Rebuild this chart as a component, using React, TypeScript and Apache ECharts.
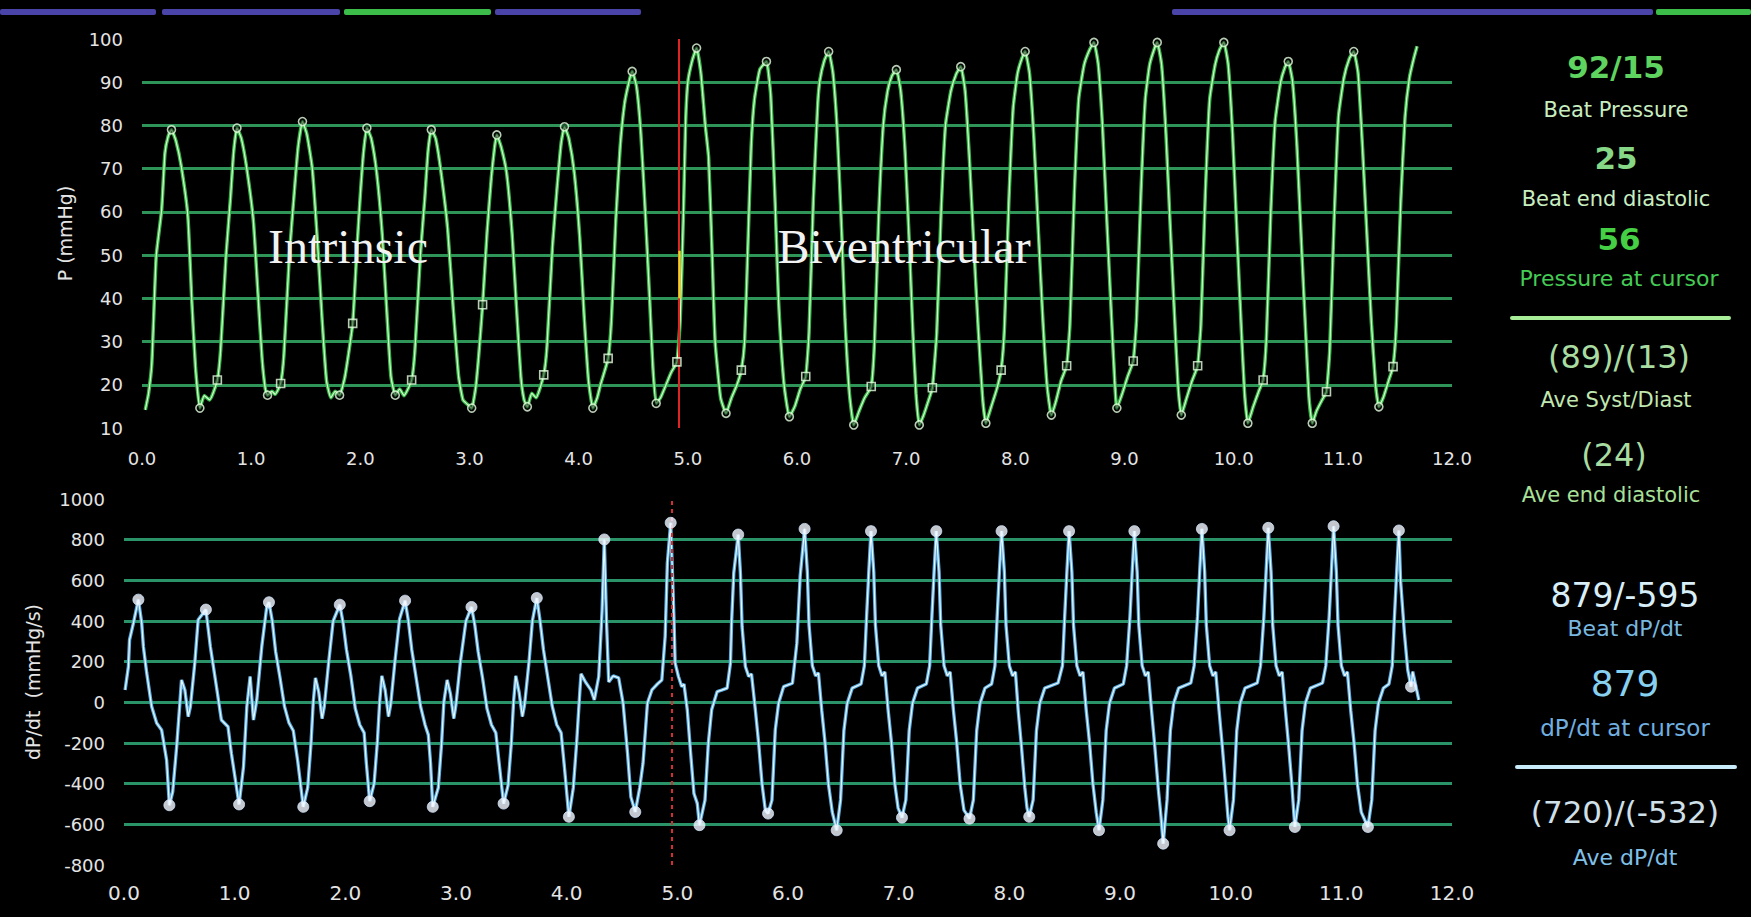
import React, { useEffect, useRef } from "react";
import * as echarts from "echarts";

// ---------- DATA ----------
// Left-ventricular pressure trace, [time s, mmHg]
const PRESSURE_TRACE: [number, number][] = [
  [0.03,14.2],[0.06,18],[0.09,25],[0.13,49.7],[0.18,60.5],[0.21,73.6],[0.24,77.5],[0.27,79],
  [0.31,76.5],[0.36,70.5],[0.42,59],[0.455,40],[0.49,24],[0.53,14.6],[0.57,17.5],[0.62,16.5],[0.69,21.1],
  [0.72,28],[0.77,50],[0.81,63],[0.84,74],[0.87,79.4],
  [0.91,77],[0.96,70],[1.02,58],[1.06,42],[1.10,26],[1.13,19],[1.15,17.6],[1.19,18.5],[1.22,17.8],[1.27,20.3],
  [1.30,27],[1.35,50],[1.39,63],[1.43,75],[1.47,80.9],
  [1.51,78],[1.56,70],[1.61,52],[1.65,35],[1.69,21],[1.73,17],[1.77,18.5],[1.81,17.6],[1.86,22],[1.93,34.2],
  [1.97,52],[2.00,64],[2.03,74],[2.06,79.4],
  [2.10,77],[2.15,69],[2.20,55],[2.24,38],[2.28,22],[2.32,17.6],[2.36,19],[2.40,17.5],[2.47,21.1],
  [2.50,28],[2.55,50],[2.59,63],[2.62,74],[2.65,79],
  [2.69,77],[2.74,69],[2.80,56],[2.85,38],[2.90,22],[2.94,16.5],[2.98,15.5],[3.02,14.6],[3.06,20],[3.12,38.5],
  [3.16,55],[3.20,68],[3.23,75],[3.25,77.8],
  [3.29,75],[3.34,69],[3.39,55],[3.43,38],[3.47,22],[3.50,16.5],[3.53,14.9],[3.57,18],[3.61,17],[3.68,22.3],
  [3.71,29],[3.76,52],[3.80,65],[3.84,76],[3.87,79.7],
  [3.91,77],[3.96,69],[4.01,54],[4.05,36],[4.09,21],[4.13,14.6],[4.17,17],[4.20,20],[4.27,26.1],
  [4.30,35],[4.34,58],[4.38,75],[4.42,85],[4.46,90],[4.49,92.5],
  [4.53,89],[4.57,78],[4.61,60],[4.65,40],[4.68,24],[4.71,15.7],[4.75,17],[4.80,20],[4.85,23],[4.90,25.3],
  [4.93,35],[4.96,60],[4.98,81],[5.00,90],[5.04,95],[5.08,97.9],
  [5.12,92],[5.16,80],[5.19,72.7],[5.22,52],[5.25,30],[5.30,17],[5.35,13.4],[5.40,17],[5.45,20],[5.49,23.4],
  [5.52,30],[5.55,52],[5.58,75],[5.61,86],[5.66,93],[5.72,94.8],
  [5.76,86.7],[5.80,62],[5.83,40],[5.88,20.4],[5.93,12.6],[5.98,15],[6.03,19],[6.08,21.9],
  [6.11,32],[6.15,63],[6.19,85],[6.21,90.5],[6.25,95],[6.29,97.1],
  [6.33,92],[6.37,78],[6.41,55],[6.44,35],[6.48,18],[6.52,10.7],[6.57,14],[6.62,17],[6.68,19.6],
  [6.71,30],[6.75,60],[6.79,80],[6.83,88],[6.87,91.5],[6.91,92.9],
  [6.95,88],[6.99,74],[7.03,52],[7.06,33],[7.09,18],[7.12,10.7],[7.16,13],[7.20,16],[7.24,19.3],
  [7.28,32],[7.32,60],[7.36,80],[7.41,88],[7.46,92],[7.50,93.6],
  [7.54,88],[7.58,72],[7.62,52],[7.66,33],[7.70,17],[7.73,11.1],[7.78,15],[7.83,19],[7.87,23.4],
  [7.90,33],[7.94,62],[7.98,84],[8.02,92],[8.06,95.5],[8.09,97.1],
  [8.13,92],[8.17,77],[8.21,56],[8.25,36],[8.29,20],[8.33,13],[8.37,16],[8.42,21],[8.47,24.4],
  [8.50,34],[8.54,64],[8.58,86],[8.63,94],[8.68,97.5],[8.72,99.2],
  [8.76,94],[8.80,79],[8.84,57],[8.88,36],[8.91,21],[8.93,14.6],[8.98,18],[9.03,22],[9.08,25.5],
  [9.11,35],[9.15,64],[9.19,86],[9.23,94],[9.27,97.5],[9.30,99.2],
  [9.34,94],[9.38,78],[9.42,56],[9.46,35],[9.49,20],[9.52,13],[9.57,17],[9.62,21],[9.67,24.4],
  [9.70,34],[9.74,64],[9.78,86],[9.83,94],[9.87,97.5],[9.91,99.2],
  [9.95,94],[9.99,78],[10.03,55],[10.07,33],[10.10,18],[10.13,11.1],[10.18,15],[10.23,18.5],[10.27,21.1],
  [10.30,31],[10.34,60],[10.38,81],[10.43,90],[10.47,93.5],[10.50,94.8],
  [10.54,90],[10.58,75],[10.62,53],[10.66,32],[10.69,17],[10.72,11.1],[10.76,14],[10.81,16.5],[10.85,18.4],
  [10.88,28],[10.92,58],[10.96,82],[11.01,91],[11.06,95.5],[11.10,97.1],
  [11.14,92],[11.18,75],[11.22,55],[11.26,35],[11.30,20],[11.33,14.9],[11.37,17],[11.42,21],[11.46,24.2],
  [11.49,34],[11.53,62],[11.57,82],[11.61,91],[11.65,95.5],[11.68,98.3],
];

const PRESSURE_PEAKS: [number, number][] = [
  [0.27,79],[0.87,79.4],[1.47,80.9],[2.06,79.4],[2.65,79],[3.25,77.8],[3.87,79.7],[4.49,92.5],
  [5.08,97.9],[5.72,94.8],[6.29,97.1],[6.91,92.9],[7.50,93.6],[8.09,97.1],[8.72,99.2],[9.30,99.2],
  [9.91,99.2],[10.50,94.8],[11.10,97.1],
];
const PRESSURE_MINS: [number, number][] = [
  [0.53,14.6],[1.15,17.6],[1.81,17.6],[2.32,17.6],[3.02,14.6],[3.53,14.9],[4.13,14.6],[4.71,15.7],
  [5.35,13.4],[5.93,12.6],[6.52,10.7],[7.12,10.7],[7.73,11.1],[8.33,13],[8.93,14.6],[9.52,13],
  [10.13,11.1],[10.72,11.1],[11.33,14.9],
];
const PRESSURE_END_DIASTOLIC: [number, number][] = [
  [0.69,21.1],[1.27,20.3],[1.93,34.2],[2.47,21.1],[3.12,38.5],[3.68,22.3],[4.27,26.1],[4.90,25.3],
  [5.49,23.4],[6.08,21.9],[6.68,19.6],[7.24,19.3],[7.87,23.4],[8.47,24.4],[9.08,25.5],[9.67,24.4],
  [10.27,21.1],[10.85,18.4],[11.46,24.2],
];

// dP/dt trace, [time s, mmHg/s]
const DPDT_TRACE: [number, number][] = [
  [0.01,61],[0.04,176],[0.05,307],[0.085,390],[0.13,505],
  [0.16,390],[0.175,275],[0.205,145],[0.25,-21],[0.295,-102],[0.34,-136],[0.385,-284],[0.41,-506],
  [0.44,-440],[0.476,-218],[0.505,-3],[0.52,110],[0.55,61],[0.58,-70],[0.60,-21],[0.64,194],[0.67,406],[0.74,456],
  [0.78,275],[0.84,61],[0.88,-87],[0.94,-120],[0.97,-250],[1.04,-502],
  [1.08,-317],[1.11,-21],[1.14,127],[1.17,-87],[1.20,12],[1.245,275],[1.29,470],[1.31,492],
  [1.34,400],[1.37,250],[1.41,120],[1.45,-20],[1.49,-100],[1.53,-140],[1.57,-290],[1.62,-514],
  [1.66,-420],[1.69,-200],[1.71,0],[1.73,120],[1.76,50],[1.79,-80],[1.81,-20],[1.85,200],[1.89,400],[1.95,480],
  [1.98,390],[2.01,260],[2.05,130],[2.09,-30],[2.13,-110],[2.17,-150],[2.19,-300],[2.22,-486],
  [2.26,-400],[2.29,-190],[2.31,0],[2.33,130],[2.36,60],[2.39,-70],[2.41,-10],[2.45,210],[2.49,410],[2.54,500],
  [2.57,400],[2.60,260],[2.64,120],[2.68,-20],[2.72,-110],[2.75,-160],[2.77,-300],[2.79,-514],
  [2.84,-420],[2.87,-200],[2.89,0],[2.92,110],[2.95,40],[2.98,-80],[3.00,-10],[3.04,200],[3.09,400],[3.14,469],
  [3.17,380],[3.20,250],[3.24,120],[3.28,-30],[3.32,-110],[3.36,-150],[3.39,-300],[3.43,-498],
  [3.47,-410],[3.50,-200],[3.52,0],[3.54,130],[3.57,50],[3.60,-70],[3.62,-10],[3.66,200],[3.69,400],[3.73,513],
  [3.76,400],[3.79,260],[3.83,120],[3.87,-20],[3.91,-110],[3.95,-150],[3.98,-320],[4.02,-563],
  [4.06,-420],[4.09,-200],[4.12,61],[4.13,140],[4.17,100],[4.22,60],[4.25,12],[4.29,127],[4.32,450],[4.34,801],
  [4.36,400],[4.38,100],[4.42,130],[4.47,120],[4.51,-5],[4.55,-250],[4.58,-465],[4.62,-539],
  [4.66,-420],[4.69,-300],[4.73,-3],[4.77,61],[4.82,90],[4.86,110],[4.89,324],[4.91,686],[4.94,883],
  [4.97,406],[4.98,194],[5.01,127],[5.04,77],[5.06,90],[5.09,-37],[5.12,-250],[5.15,-448],[5.18,-497],[5.20,-604],
  [5.25,-481],[5.28,-202],[5.31,-37],[5.36,53],[5.40,60],[5.45,70],[5.48,193],[5.49,390],[5.51,636],[5.55,825],
  [5.57,636],[5.585,373],[5.615,176],[5.645,127],[5.67,140],[5.705,-37],[5.735,-202],[5.765,-399],[5.795,-530],[5.82,-547],
  [5.855,-481],[5.885,-136],[5.915,-4],[5.96,77],[6.04,94],[6.08,291],[6.11,620],[6.15,853],
  [6.175,640],[6.19,380],[6.22,180],[6.25,130],[6.275,145],[6.305,-40],[6.335,-200],[6.365,-400],[6.40,-540],[6.44,-629],
  [6.475,-480],[6.505,-140],[6.535,-5],[6.58,70],[6.66,90],[6.69,180],[6.71,420],[6.73,640],[6.75,842],
  [6.775,640],[6.79,380],[6.82,180],[6.85,130],[6.875,150],[6.905,-40],[6.935,-200],[6.965,-400],[6.995,-520],[7.03,-567],
  [7.065,-480],[7.095,-140],[7.125,-5],[7.17,70],[7.25,90],[7.28,180],[7.30,420],[7.32,640],[7.34,842],
  [7.365,640],[7.38,380],[7.41,180],[7.44,130],[7.465,150],[7.495,-40],[7.525,-200],[7.555,-400],[7.59,-530],[7.64,-572],
  [7.675,-480],[7.705,-140],[7.735,-5],[7.78,70],[7.84,90],[7.87,180],[7.89,420],[7.91,640],[7.93,842],
  [7.955,640],[7.97,380],[8.00,180],[8.03,130],[8.055,150],[8.08,-40],[8.11,-220],[8.14,-420],[8.16,-520],[8.18,-563],
  [8.215,-480],[8.245,-140],[8.275,-5],[8.32,70],[8.44,95],[8.48,180],[8.50,420],[8.52,640],[8.54,842],
  [8.565,640],[8.58,380],[8.61,180],[8.64,130],[8.665,150],[8.695,-40],[8.725,-200],[8.755,-400],[8.785,-540],[8.81,-629],
  [8.845,-480],[8.875,-140],[8.905,-5],[8.95,70],[9.03,90],[9.06,180],[9.09,420],[9.11,640],[9.13,842],
  [9.155,640],[9.17,380],[9.20,180],[9.23,130],[9.255,150],[9.285,-40],[9.315,-220],[9.345,-420],[9.37,-560],[9.39,-695],
  [9.425,-480],[9.455,-140],[9.485,-5],[9.53,70],[9.64,95],[9.67,180],[9.70,420],[9.72,640],[9.74,853],
  [9.765,640],[9.78,380],[9.81,180],[9.84,130],[9.865,150],[9.895,-40],[9.925,-220],[9.955,-420],[9.975,-560],[9.99,-629],
  [10.025,-480],[10.055,-140],[10.085,-5],[10.13,70],[10.24,95],[10.27,180],[10.30,420],[10.32,640],[10.34,858],
  [10.365,640],[10.38,380],[10.41,180],[10.44,130],[10.465,150],[10.495,-40],[10.525,-220],[10.555,-420],[10.57,-540],[10.58,-613],
  [10.615,-480],[10.645,-140],[10.675,-5],[10.72,70],[10.83,95],[10.86,180],[10.89,420],[10.91,640],[10.93,866],
  [10.955,640],[10.97,380],[11.00,180],[11.03,130],[11.055,150],[11.085,-40],[11.115,-200],[11.145,-400],[11.18,-540],[11.24,-613],
  [11.275,-480],[11.305,-140],[11.335,-5],[11.38,70],[11.43,90],[11.46,180],[11.48,420],[11.50,640],[11.52,845],
  [11.535,600],[11.57,340],[11.60,160],[11.63,77],[11.645,151],[11.70,12],
];

const DPDT_PEAKS: [number, number][] = [
  [0.13,505],[0.74,456],[1.31,492],[1.95,480],[2.54,500],[3.14,469],[3.73,513],[4.34,801],[4.94,883],
  [5.55,825],[6.15,853],[6.75,842],[7.34,842],[7.93,842],[8.54,842],[9.13,842],[9.74,853],[10.34,858],
  [10.93,866],[11.52,845],
];
const DPDT_MINS: [number, number][] = [
  [0.41,-506],[1.04,-502],[1.62,-514],[2.22,-486],[2.79,-514],[3.43,-498],[4.02,-563],[4.62,-539],
  [5.20,-604],[5.82,-547],[6.44,-629],[7.03,-567],[7.64,-572],[8.18,-563],[8.81,-629],[9.39,-695],
  [9.99,-629],[10.58,-613],[11.24,-613],
];
const DPDT_CURSOR_MARK: [number, number][] = [[11.63, 77]];

const CURSOR_TIME_P = 4.92;
const CURSOR_TIME_D = 4.95;
const CURSOR_PRESSURE_SPAN: [number, number] = [40, 51];

const PRESSURE_RANGE = { min: 10, max: 100, step: 10 };
const DPDT_RANGE = { min: -800, max: 1000, step: 200 };
const TIME_RANGE = { min: 0, max: 12, step: 1 };

const PRESSURE_AXIS_NAME = "P (mmHg)";
const DPDT_AXIS_NAME = "dP/dt  (mmHg/s)";
const PHASE_LABELS = ["Intrinsic", "Biventricular"];

const PRESSURE_PANEL = [
  "92/15", "Beat Pressure", "25", "Beat end diastolic", "56", "Pressure at cursor",
  "(89)/(13)", "Ave Syst/Diast", "(24)", "Ave end diastolic",
];
const DPDT_PANEL = [
  "879/-595", "Beat dP/dt", "879", "dP/dt at cursor", "(720)/(-532)", "Ave dP/dt",
];

// ---------- LAYOUT / STYLE ----------
const FONT = "DejaVu Sans";

function panelText(text: string, x: number, y: number, size: number, color: string, bold = false) {
  return {
    type: "text",
    x,
    y,
    silent: true,
    z: 10,
    style: {
      text,
      fill: color,
      fontSize: size,
      fontWeight: bold ? "bold" : "normal",
      fontFamily: FONT,
      align: "center",
      verticalAlign: "middle",
      textAlign: "center",
      textVerticalAlign: "middle",
    },
  };
}

function buildOption() {
  const pStyles: [number, number, number, string, boolean][] = [
    [1616, 67, 31, "#5fd35f", true],
    [1616, 110, 21, "#c8eec0", false],
    [1616, 158, 31, "#86d886", true],
    [1616, 199, 21, "#c8eec0", false],
    [1619, 239, 31, "#45cf45", true],
    [1619, 278, 22, "#44cc55", false],
    [1619, 357, 32, "#a8dca0", false],
    [1616, 400, 21, "#c0e8b0", false],
    [1614, 455, 32, "#a8dca0", false],
    [1611, 495, 21, "#a8e098", false],
  ];
  const dStyles: [number, number, number, string, boolean][] = [
    [1625, 595, 33, "#d8eef8", false],
    [1625, 628, 22, "#78b8e0", false],
    [1625, 683, 36, "#88d0f0", false],
    [1625, 728, 23, "#70b0e0", false],
    [1625, 812, 31, "#d0e0ea", false],
    [1625, 857, 22, "#80c0e8", false],
  ];

  const graphics: any[] = [];
  const bars: [number, number, string][] = [
    [0, 156, "#4a44a8"], [162, 178, "#4a44a8"], [344, 147, "#3cbc48"], [495, 146, "#4a44a8"],
    [1172, 481, "#4a44a8"], [1656, 95, "#3cbc48"],
  ];
  bars.forEach(([x, w, c]) =>
    graphics.push({ type: "rect", silent: true, shape: { x, y: 9, width: w, height: 6, r: 2 }, style: { fill: c } })
  );
  PRESSURE_PANEL.forEach((t, i) => {
    const [x, y, s, c, b] = pStyles[i];
    graphics.push(panelText(t, x, y, s, c, b));
  });
  DPDT_PANEL.forEach((t, i) => {
    const [x, y, s, c, b] = dStyles[i];
    graphics.push(panelText(t, x, y, s, c, b));
  });
  graphics.push({ type: "rect", silent: true, shape: { x: 1510, y: 316, width: 221, height: 4, r: 2 }, style: { fill: "#a8ee98" } });
  graphics.push({ type: "rect", silent: true, shape: { x: 1515, y: 765, width: 222, height: 4, r: 2 }, style: { fill: "#c8ecfa" } });
  graphics.push({
    type: "text", x: 348, y: 246, silent: true, z: 20,
    style: { text: PHASE_LABELS[0], fill: "#f2f2f2", fontSize: 48, fontFamily: "Liberation Serif",
      align: "center", verticalAlign: "middle", textAlign: "center", textVerticalAlign: "middle" },
  });
  graphics.push({
    type: "text", x: 904, y: 246, silent: true, z: 20,
    style: { text: PHASE_LABELS[1], fill: "#f2f2f2", fontSize: 48, fontFamily: "Liberation Serif",
      align: "center", verticalAlign: "middle", textAlign: "center", textVerticalAlign: "middle" },
  });

  const xAxisBase = (gridIndex: number, size: number, margin: number) => ({
    type: "value",
    gridIndex,
    min: TIME_RANGE.min,
    max: TIME_RANGE.max,
    interval: TIME_RANGE.step,
    axisLine: { show: false },
    axisTick: { show: false },
    splitLine: { show: false },
    axisLabel: {
      color: "#e4e4e4",
      fontSize: size,
      fontFamily: FONT,
      margin,
      formatter: (v: number) => v.toFixed(1),
    },
  });

  const yAxisBase = (gridIndex: number, r: any, name: string, nameGap: number, grid: string) => ({
    type: "value",
    gridIndex,
    min: r.min,
    max: r.max,
    interval: r.step,
    name,
    nameLocation: "middle",
    nameRotate: 90,
    nameGap,
    nameTextStyle: { color: "#e4e4e4", fontSize: 19, fontFamily: FONT },
    axisLine: { show: false },
    axisTick: { show: false },
    axisLabel: { color: "#e4e4e4", fontSize: 18, fontFamily: FONT, margin: 19, formatter: (v: number) => String(v) },
    splitLine: { show: true, showMinLine: false, showMaxLine: false, lineStyle: { color: grid, width: 3 } },
  });

  const circleMarks = (data: [number, number][], xi: number, yi: number, size: number, filled: boolean, symbol = "circle") => ({
    type: "scatter",
    xAxisIndex: xi,
    yAxisIndex: yi,
    data,
    symbol,
    symbolSize: size,
    z: 5,
    silent: true,
    itemStyle: filled
      ? { color: "#f4f8ff", borderColor: "#cfe6ff", borderWidth: 1 }
      : { color: "rgba(0,0,0,0.55)", borderColor: "#e6ffe0", borderWidth: 1.6 },
  });

  return {
    animation: false,
    backgroundColor: "#000",
    grid: [
      { left: 142, top: 39, width: 1310, height: 389 },
      { left: 124, top: 499, width: 1328, height: 366 },
    ],
    xAxis: [xAxisBase(0, 18, 21), xAxisBase(1, 20, 18)],
    yAxis: [
      yAxisBase(0, PRESSURE_RANGE, PRESSURE_AXIS_NAME, 68, "#2e9457"),
      yAxisBase(1, DPDT_RANGE, DPDT_AXIS_NAME, 82, "#2a9468"),
    ],
    graphic: graphics,
    series: [
      {
        type: "line", xAxisIndex: 0, yAxisIndex: 0, data: PRESSURE_TRACE, showSymbol: false, smooth: 0.15,
        silent: true, lineStyle: { color: "#36b549", width: 3.6 }, z: 2,
        markLine: {
          silent: true, symbol: "none", label: { show: false },
          data: [
            [{ coord: [CURSOR_TIME_P, PRESSURE_RANGE.min], lineStyle: { color: "#e02424", width: 2, type: "solid" } },
             { coord: [CURSOR_TIME_P, PRESSURE_RANGE.max] }],
            [{ coord: [CURSOR_TIME_P, CURSOR_PRESSURE_SPAN[0]], lineStyle: { color: "#f0d020", width: 2.5, type: "solid" } },
             { coord: [CURSOR_TIME_P, CURSOR_PRESSURE_SPAN[1]] }],
          ],
        },
      },
      {
        type: "line", xAxisIndex: 0, yAxisIndex: 0, data: PRESSURE_TRACE, showSymbol: false, smooth: 0.15,
        silent: true, lineStyle: { color: "#d8ffcc", width: 1.2 }, z: 3,
      },
      circleMarks(PRESSURE_PEAKS, 0, 0, 8, false),
      circleMarks(PRESSURE_MINS, 0, 0, 8, false),
      circleMarks(PRESSURE_END_DIASTOLIC, 0, 0, 8, false, "rect"),
      {
        type: "line", xAxisIndex: 1, yAxisIndex: 1, data: DPDT_TRACE, showSymbol: false,
        silent: true, lineStyle: { color: "#5aaee0", width: 3.4 }, z: 2,
        markLine: {
          silent: true, symbol: "none", label: { show: false },
          data: [
            [{ coord: [CURSOR_TIME_D, DPDT_RANGE.min], lineStyle: { color: "#d03030", width: 2, type: [4, 4] } },
             { coord: [CURSOR_TIME_D, DPDT_RANGE.max] }],
          ],
        },
      },
      {
        type: "line", xAxisIndex: 1, yAxisIndex: 1, data: DPDT_TRACE, showSymbol: false,
        silent: true, lineStyle: { color: "#eef6ff", width: 1.2 }, z: 3,
      },
      circleMarks(DPDT_PEAKS, 1, 1, 11, true),
      circleMarks(DPDT_MINS, 1, 1, 11, true),
      circleMarks(DPDT_CURSOR_MARK, 1, 1, 11, true),
    ],
  };
}

export default function App() {
  const ref = useRef<HTMLDivElement>(null);
  useEffect(() => {
    document.body.style.margin = "0";
    document.body.style.background = "#000";
    const chart = echarts.init(ref.current as HTMLDivElement, null, { renderer: "svg" });
    chart.setOption(buildOption() as any);
    return () => chart.dispose();
  }, []);
  return (
    <div style={{ position: "fixed", left: 0, top: 0, width: 1751, height: 917, background: "#000" }}>
      <div ref={ref} style={{ width: 1751, height: 917 }} />
    </div>
  );
}
